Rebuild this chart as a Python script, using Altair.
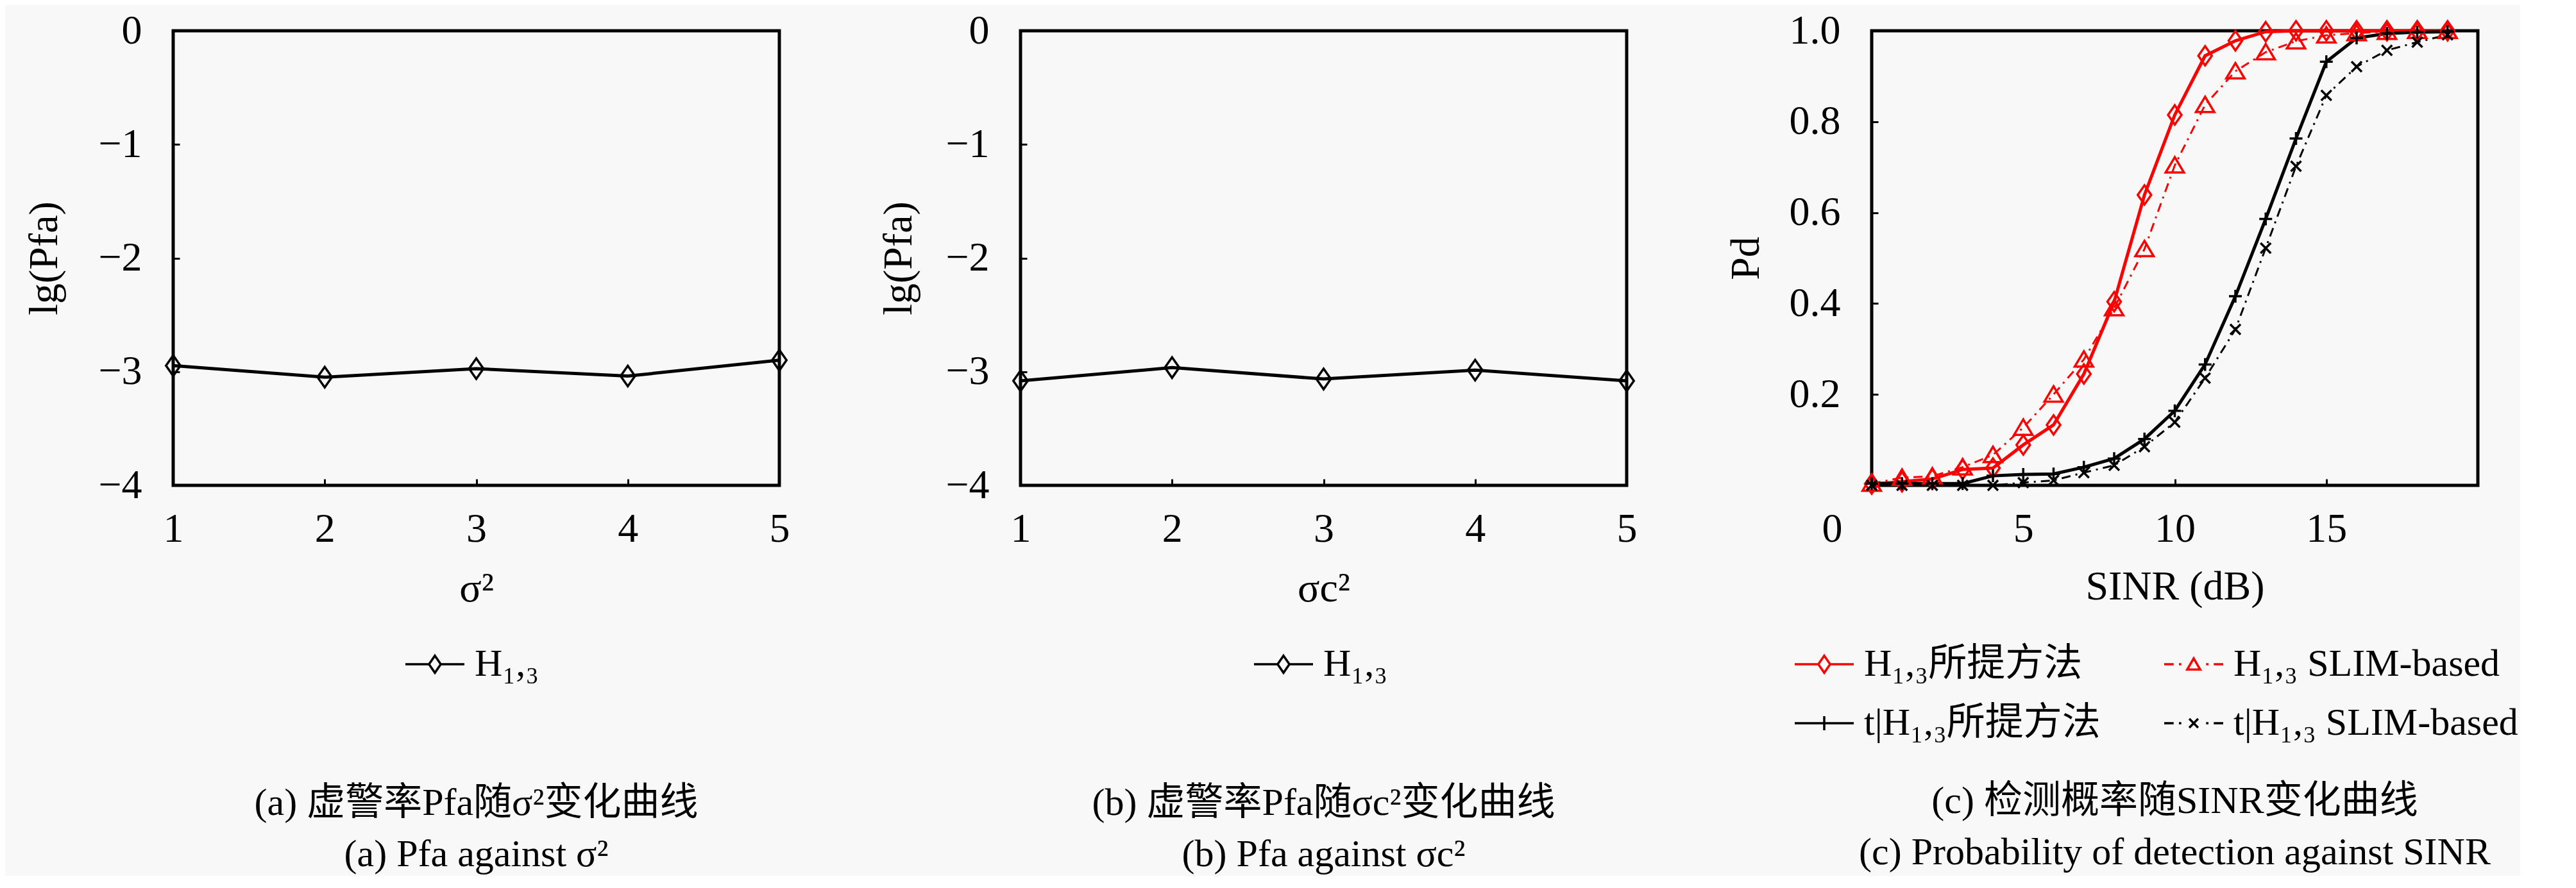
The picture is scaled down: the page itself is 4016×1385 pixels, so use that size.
import altair as alt
import pandas as pd

FONT = "'Liberation Serif', 'Noto Sans CJK SC', serif"
BG = "#f8f8f8"
RED = "#ff0000"
BLACK = "#000000"

# ---------------- data ----------------
sigma_x = [1, 2, 3, 4, 5]
lg_pfa_sigma = [-2.947, -3.048, -2.973, -3.038, -2.899]
lg_pfa_sigma_c = [-3.080, -2.964, -3.064, -2.986, -3.080]

sinr_db = list(range(20))
pd_h13_prop = [0.003, 0.008, 0.014, 0.035, 0.038, 0.089, 0.133, 0.245, 0.404, 0.639,
               0.815, 0.945, 0.978, 0.998, 1.000, 1.000, 1.000, 1.000, 1.000, 1.000]
pd_h13_slim = [0.004, 0.017, 0.020, 0.040, 0.067, 0.127, 0.200, 0.277, 0.390, 0.520,
               0.704, 0.837, 0.911, 0.953, 0.977, 0.990, 0.995, 0.998, 1.000, 1.000]
pd_t_prop = [0.004, 0.004, 0.004, 0.004, 0.021, 0.024, 0.025, 0.040, 0.059, 0.102,
             0.164, 0.266, 0.416, 0.586, 0.763, 0.932, 0.984, 0.994, 0.997, 0.998]
pd_t_slim = [0.000, 0.000, 0.000, 0.000, 0.000, 0.006, 0.011, 0.028, 0.044, 0.085,
             0.139, 0.236, 0.343, 0.522, 0.702, 0.858, 0.921, 0.957, 0.975, 0.991]

series_names = ["H₁,₃所提方法", "H₁,₃ SLIM-based", "t|H₁,₃所提方法", "t|H₁,₃ SLIM-based"]
series_values = [pd_h13_prop, pd_h13_slim, pd_t_prop, pd_t_slim]
series_colors = [RED, RED, BLACK, BLACK]
# legend fills column by column: first column = "所提方法" entries
legend_order = [0, 2, 1, 3]
fa_label = "H₁,₃"

y_ticks_fa = [0, -1, -2, -3, -4]
y_ticks_pd = [0.2, 0.4, 0.6, 0.8, 1.0]
x_ticks_pd = [0, 5, 10, 15]

captions = [
    ["(a) 虚警率Pfa随σ²变化曲线", "(a) Pfa against σ²"],
    ["(b) 虚警率Pfa随σc²变化曲线", "(b) Pfa against σc²"],
    ["(c) 检测概率随SINR变化曲线", "(c) Probability of detection against SINR"],
]

# ---------------- marker paths ----------------
DIAMOND = "M0,-1L0.7,0L0,1L-0.7,0Z"
TRIANGLE = "M0,-0.85L0.95,0.75L-0.95,0.75Z"
PLUS = "M-1,0H1M0,-1V1"
XMARK = "M-1,-1L1,1M1,-1L-1,1"

LEG_DIAMOND = "M-1,0H-0.2M0.2,0H1M0,-0.29L0.2,0L0,0.29L-0.2,0Z"
LEG_TRIANGLE = "M-1,0H-0.68M-0.5,0H-0.42M0.42,0H0.5M0.68,0H1M0,-0.2L0.22,0.18L-0.22,0.18Z"
LEG_PLUS = "M-1,0H1M0,-0.24V0.24"
LEG_X = "M-1,0H-0.68M-0.5,0H-0.42M0.42,0H0.5M0.68,0H1M-0.15,-0.15L0.15,0.15M0.15,-0.15L-0.15,0.15"
leg_paths = [LEG_DIAMOND, LEG_TRIANGLE, LEG_PLUS, LEG_X]

W, H = 945, 709
LEG_SIZE = 92 * 92


def caption_title(lines, offset):
    return alt.TitleParams(text=lines, orient="bottom", anchor="middle", frame="group",
                           font=FONT, fontSize=60, fontWeight="normal", color="black",
                           lineHeight=80, offset=offset)


def legend(x, y, columns=1):
    return alt.Legend(orient="none", legendX=x, legendY=y, columns=columns, title=None,
                      padding=0, columnPadding=92, rowPadding=14, symbolSize=LEG_SIZE,
                      symbolStrokeWidth=3.5, symbolOpacity=1, labelFont=FONT,
                      labelFontSize=60, labelColor="black", labelOffset=14, labelLimit=2000)


def fa_panel(yvals, xtitle, title_x, legend_x, caption, cap_offset):
    df = pd.DataFrame({"x": sigma_x, "y": yvals, "series": [fa_label] * len(sigma_x)})
    xenc = alt.X("x:Q", scale=alt.Scale(domain=[1, 5], nice=False, zero=False),
                 axis=alt.Axis(values=sigma_x, title=xtitle, titleX=W / 2, titleY=190,
                               titleAlign="center", titleBaseline="alphabetic", format="d"))
    yenc = alt.Y("y:Q", scale=alt.Scale(domain=[-4, 0], nice=False, zero=False),
                 axis=alt.Axis(values=y_ticks_fa, title="lg(Pfa)", titleX=title_x, titleY=H / 2,
                               titleAngle=270, titleAlign="center", titleBaseline="alphabetic",
                               format="d"))
    line = alt.Chart(df).mark_line(color=BLACK, strokeWidth=5).encode(x=xenc, y=yenc)
    pts = alt.Chart(df).mark_point(shape=DIAMOND, size=1024, filled=False, color=BLACK,
                                   strokeWidth=3.5, opacity=1).encode(x="x:Q", y="y:Q")
    # invisible layer that only feeds the legend (line + marker symbol)
    leg = (alt.Chart(df).transform_filter(alt.datum.x == 3)
           .mark_point(opacity=0, filled=False, size=LEG_SIZE, strokeWidth=4, clip=True)
           .encode(
               x="x:Q", y="y:Q",
               shape=alt.Shape("series:N", scale=alt.Scale(domain=[fa_label], range=[LEG_DIAMOND]),
                               legend=legend(legend_x, 940)),
               color=alt.Color("series:N", scale=alt.Scale(domain=[fa_label], range=[BLACK]),
                               legend=legend(legend_x, 940)),
           ))
    return alt.layer(line, pts, leg).properties(width=W, height=H,
                                                title=caption_title(caption, cap_offset))


def pd_panel(caption, cap_offset):
    rows = []
    for name, vals in zip(series_names, series_values):
        for xv, yv in zip(sinr_db, vals):
            rows.append({"x": xv, "y": yv, "series": name})
    df = pd.DataFrame(rows)
    xenc = alt.X("x:Q", scale=alt.Scale(domain=[0, 20], nice=False, zero=False),
                 axis=alt.Axis(values=x_ticks_pd, title="SINR (dB)", titleX=W / 2, titleY=187,
                               titleAlign="center", titleBaseline="alphabetic", format="d",
                               labelOffset={"condition": {"test": "datum.value === 0", "value": -62},
                                            "value": 0}))
    yenc = alt.Y("y:Q", scale=alt.Scale(domain=[0, 1], nice=False, zero=False),
                 axis=alt.Axis(values=y_ticks_pd, title="Pd", titleX=-187, titleY=H / 2,
                               titleAngle=270, titleAlign="center", titleBaseline="alphabetic",
                               format=".1f"))
    styles = [
        dict(color=RED, width=5, dash=None, shape=DIAMOND, size=900),
        dict(color=RED, width=3, dash=[14, 8, 3, 8], shape=TRIANGLE, size=900),
        dict(color=BLACK, width=5, dash=None, shape=PLUS, size=400),
        dict(color=BLACK, width=3, dash=[14, 8, 3, 8], shape=XMARK, size=256),
    ]
    layers = []
    for i, (name, st) in enumerate(zip(series_names, styles)):
        base = alt.Chart(df).transform_filter(alt.datum.series == name)
        lkw = dict(color=st["color"], strokeWidth=st["width"])
        if st["dash"]:
            lkw["strokeDash"] = st["dash"]
        if i == 0:
            layers.append(base.mark_line(**lkw).encode(x=xenc, y=yenc))
        else:
            layers.append(base.mark_line(**lkw).encode(x="x:Q", y="y:Q"))
    for name, st in zip(series_names, styles):
        base = alt.Chart(df).transform_filter(alt.datum.series == name)
        layers.append(base.mark_point(shape=st["shape"], size=st["size"], filled=False,
                                      color=st["color"], strokeWidth=3.5, opacity=1)
                      .encode(x="x:Q", y="y:Q"))
    dom = [series_names[i] for i in legend_order]
    leg = (alt.Chart(df).transform_filter(alt.datum.x == 8)
           .mark_point(opacity=0, filled=False, size=LEG_SIZE, strokeWidth=4, clip=True)
           .encode(
               x="x:Q", y="y:Q",
               shape=alt.Shape("series:N",
                               scale=alt.Scale(domain=dom, range=[leg_paths[i] for i in legend_order]),
                               sort=None, legend=legend(-122, 940, columns=2)),
               color=alt.Color("series:N",
                               scale=alt.Scale(domain=dom, range=[series_colors[i] for i in legend_order]),
                               sort=None, legend=legend(-122, 940, columns=2)),
           ))
    layers.append(leg)
    return alt.layer(*layers).properties(width=W, height=H,
                                         title=caption_title(caption, cap_offset))


panel_a = fa_panel(lg_pfa_sigma, "σ²", -192, 360, captions[0], 158)
panel_b = fa_panel(lg_pfa_sigma_c, "σc²", -181, 362, captions[1], 158)
panel_c = pd_panel(captions[2], 63)

chart = (
    alt.hconcat(panel_a, panel_b, panel_c, spacing=130)
    .resolve_scale(color="independent", shape="independent")
    .resolve_legend(color="independent", shape="independent")
    .configure(background=BG, padding={"left": 26, "top": 5, "right": 0, "bottom": 0})
    .configure_view(stroke="black", strokeWidth=5)
    .configure_axis(domain=False, grid=False, ticks=True, tickColor="black", tickWidth=3,
                    tickSize=10, offset=-10, labelFont=FONT, labelFontSize=64,
                    labelColor="black", titleFont=FONT, titleFontSize=64,
                    titleFontWeight="normal", titleColor="black", labelFlush=False,
                    labelOverlap=False)
    .configure_axisX(labelPadding=36)
    .configure_axisY(labelPadding=49)
)

chart.save("out.html", embed_options={"renderer": "svg", "actions": False})
